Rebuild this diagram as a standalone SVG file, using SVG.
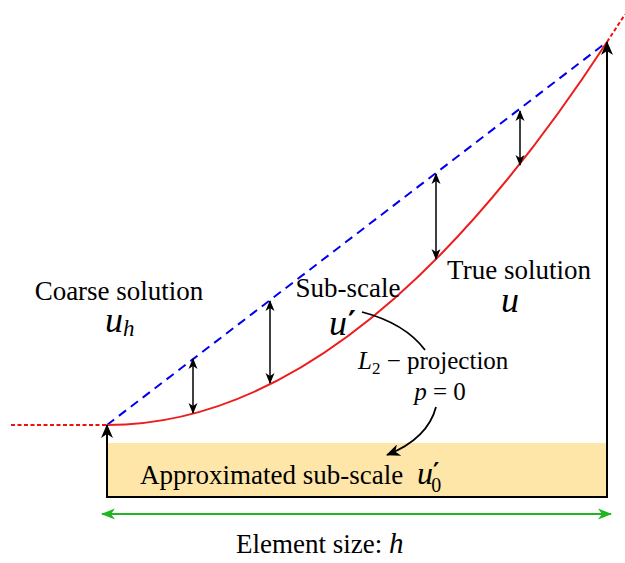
<svg xmlns="http://www.w3.org/2000/svg" width="625" height="563" viewBox="0 0 625 563">
<style>
text{font-family:"Liberation Serif","Times New Roman",serif;fill:#000}
.lbl{font-size:27px}
.m{font-style:italic}
.pr{font-family:"DejaVu Sans",sans-serif;font-weight:bold}
.blk{stroke:#000;fill:none}
</style>
<defs>
<marker id="ah" viewBox="-11 -5 12 10" refX="0" refY="0" markerWidth="12" markerHeight="10" markerUnits="userSpaceOnUse" orient="auto-start-reverse">
<path d="M1,0 L-10,-4.5 L-7,0 L-10,4.5 Z" fill="#000"/>
</marker>
<marker id="ahb" viewBox="-15 -6 16 12" refX="0" refY="0" markerWidth="16" markerHeight="12" markerUnits="userSpaceOnUse" orient="auto-start-reverse">
<path d="M1,0 L-13,-6 L-9,0 L-13,6 Z" fill="#000"/>
</marker>
<marker id="ahg" viewBox="-15 -6 16 12" refX="0" refY="0" markerWidth="16" markerHeight="12" markerUnits="userSpaceOnUse" orient="auto-start-reverse">
<path d="M1,0 L-13,-5.5 L-9,0 L-13,5.5 Z" fill="#22b522"/>
</marker>
</defs>
<rect id="subscale-box" x="107" y="443" width="500" height="54" fill="#fde6a8"/>
<g id="connectors">
<line x1="11" y1="425" x2="107" y2="425" stroke="#f01010" stroke-width="2" stroke-dasharray="4,2.5"/>
<line x1="607" y1="42" x2="625" y2="14.4" stroke="#f01010" stroke-width="2" stroke-dasharray="4,2.5"/>
<line x1="107" y1="425" x2="607" y2="42" stroke="#0000ee" stroke-width="2" stroke-dasharray="9,6"/>
<path d="M107,425 Q357,425 607,42" fill="none" stroke="#ee1c1c" stroke-width="2"/>
<line class="blk" x1="107" y1="497" x2="607" y2="497" stroke-width="2"/>
<line class="blk" x1="107" y1="498" x2="107" y2="425" stroke-width="2" marker-end="url(#ahb)"/>
<line class="blk" x1="607" y1="498" x2="607" y2="42" stroke-width="2" marker-end="url(#ahb)"/>
<line class="blk" x1="193" y1="359" x2="193" y2="413" stroke-width="1.5" marker-start="url(#ah)" marker-end="url(#ah)"/>
<line class="blk" x1="270" y1="301" x2="270" y2="383" stroke-width="1.5" marker-start="url(#ah)" marker-end="url(#ah)"/>
<line class="blk" x1="436" y1="174" x2="436" y2="259" stroke-width="1.5" marker-start="url(#ah)" marker-end="url(#ah)"/>
<line class="blk" x1="520" y1="111" x2="520" y2="165" stroke-width="1.5" marker-start="url(#ah)" marker-end="url(#ah)"/>
<line x1="102" y1="514" x2="611" y2="514" stroke="#22b522" stroke-width="2" marker-start="url(#ahg)" marker-end="url(#ahg)"/>
<path class="blk" d="M362,312 C385,318 410,330 425,350" stroke-width="1.8"/>
<path class="blk" d="M436,407 C430,430 412,445 387,455" stroke-width="1.8" marker-end="url(#ahb)"/>
</g>
<g id="coarse-solution">
<text class="lbl" x="119" y="300" text-anchor="middle">Coarse solution</text>
<text x="105" y="332" font-size="36"><tspan class="m">u</tspan><tspan class="m" font-size="23" dy="4">h</tspan></text>
</g>
<g id="sub-scale">
<text class="lbl" x="348" y="297" text-anchor="middle">Sub-scale</text>
<text x="329" y="335" font-size="36"><tspan class="m">u</tspan><tspan class="pr" font-size="30" dx="1" dy="-3">′</tspan></text>
</g>
<g id="true-solution">
<text class="lbl" x="519" y="279" text-anchor="middle">True solution</text>
<text class="m" x="501" y="312" font-size="36">u</text>
</g>
<g id="projection">
<text x="358" y="369" font-size="25"><tspan class="m">L</tspan><tspan font-size="17" dy="5">2</tspan><tspan dy="-5"> − projection</tspan></text>
<text x="440" y="400" font-size="25" text-anchor="middle"><tspan class="m">p</tspan> = 0</text>
</g>
<g id="approximated-sub-scale">
<text class="lbl" x="140" y="484">Approximated sub-scale</text>
<text x="417" y="484" font-size="32"><tspan class="m">u</tspan><tspan class="pr" font-size="24" dy="-4">′</tspan><tspan font-size="20" dx="-8" dy="12">0</tspan></text>
</g>
<g id="element-size">
<text class="lbl" x="236" y="553">Element size: <tspan class="m" font-size="29">h</tspan></text>
</g>
</svg>
